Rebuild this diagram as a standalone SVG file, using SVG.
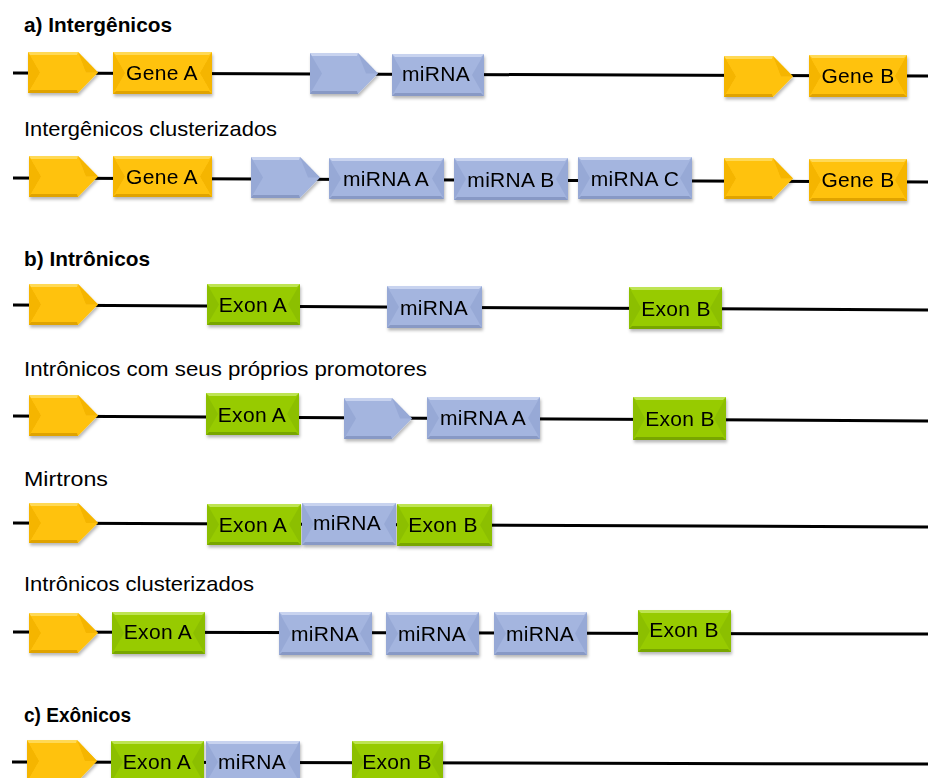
<svg xmlns="http://www.w3.org/2000/svg" width="928" height="778" viewBox="0 0 928 778">
<defs>
<filter id="sh" x="-10%" y="-15%" width="125%" height="150%">
<feDropShadow dx="1" dy="2.5" stdDeviation="1.4" flood-color="#000" flood-opacity="0.28"/>
</filter>
</defs>
<style>
text{font-family:"Liberation Sans",Arial,sans-serif;fill:#000}
.t{font-size:21px}
.h{font-size:21px;font-weight:bold}
.lbl{font-size:21px;text-anchor:middle;letter-spacing:0.3px}
.ln{fill:none;stroke:#000;stroke-width:3}
.y .f{fill:#FFC20E}.y .d{fill:#F5B500}.y .l{fill:#FFD955}.y .b{fill:#E0A300}
.u .f{fill:#A4B5DF}.u .d{fill:#97A9D6}.u .l{fill:#C8D3EF}.u .b{fill:#8899C5}
.g .f{fill:#97CB00}.g .d{fill:#8CBF00}.g .l{fill:#BEE452}.g .b{fill:#78A600}
.nd{filter:url(#sh)}
</style>
<rect width="928" height="778" fill="#fff"/>

<g id="titles">
<text class="h" x="24" y="32" textLength="148" lengthAdjust="spacingAndGlyphs">a) Intergênicos</text>
<text class="t" x="24" y="136" textLength="253" lengthAdjust="spacingAndGlyphs">Intergênicos clusterizados</text>
<text class="h" x="24" y="266" textLength="126" lengthAdjust="spacingAndGlyphs">b) Intrônicos</text>
<text class="t" x="24" y="376" textLength="403" lengthAdjust="spacingAndGlyphs">Intrônicos com seus próprios promotores</text>
<text class="t" x="24" y="486" textLength="84" lengthAdjust="spacingAndGlyphs">Mirtrons</text>
<text class="t" x="24" y="591" textLength="230" lengthAdjust="spacingAndGlyphs">Intrônicos clusterizados</text>
<text class="h" x="24" y="722" textLength="107" lengthAdjust="spacingAndGlyphs">c) Exônicos</text>
</g>

<g id="connectors">
<polyline class="ln" points="13,73 928,76"/>
<polyline class="ln" points="13,178 928,182"/>
<polyline class="ln" points="13,305 928,310"/>
<polyline class="ln" points="13,416 928,421"/>
<polyline class="ln" points="13,523 928,527"/>
<polyline class="ln" points="13,632 928,634"/>
<polyline class="ln" points="12,762 928,764"/>
</g>

<!-- Row 1 -->
<g id="r1_prom1" class="nd y">
<polygon class="f" points="28,52 78,52 98,72.5 78,93 28,93"/>
<polygon class="d" points="28,52 40,72.5 28,93"/>
<polygon class="d" points="78,52 98,72.5 86,72.5"/>
<polygon class="l" points="28,52 78,52 77,55 30,55"/>
<polygon class="b" points="28,93 78,93 77,90 30,90"/>
</g>
<g id="r1_geneA" class="nd y">
<rect class="f" x="113" y="52" width="99" height="42"/>
<polygon class="d" points="113,52 125,73 113,94"/>
<polygon class="d" points="212,52 200,73 212,94"/>
<polygon class="l" points="113,52 212,52 209,55 116,55"/>
<polygon class="b" points="113,94 212,94 209,91 116,91"/>
<text class="lbl" x="162" y="80">Gene A</text>
</g>
<g id="r1_prom2" class="nd u">
<polygon class="f" points="310,53 358,53 378,73.5 358,94 310,94"/>
<polygon class="d" points="310,53 322,73.5 310,94"/>
<polygon class="d" points="358,53 378,73.5 366,73.5"/>
<polygon class="l" points="310,53 358,53 357,56 312,56"/>
<polygon class="b" points="310,94 358,94 357,91 312,91"/>
</g>
<g id="r1_mirna" class="nd u">
<rect class="f" x="392" y="54" width="92" height="42"/>
<polygon class="d" points="392,54 404,75 392,96"/>
<polygon class="d" points="484,54 472,75 484,96"/>
<polygon class="l" points="392,54 484,54 481,57 395,57"/>
<polygon class="b" points="392,96 484,96 481,93 395,93"/>
<text class="lbl" x="436" y="81">miRNA</text>
</g>
<g id="r1_prom3" class="nd y">
<polygon class="f" points="724,56 773,56 793,76.5 773,97 724,97"/>
<polygon class="d" points="724,56 736,76.5 724,97"/>
<polygon class="d" points="773,56 793,76.5 781,76.5"/>
<polygon class="l" points="724,56 773,56 772,59 726,59"/>
<polygon class="b" points="724,97 773,97 772,94 726,94"/>
</g>
<g id="r1_geneB" class="nd y">
<rect class="f" x="809" y="55" width="98" height="42"/>
<polygon class="d" points="809,55 821,76 809,97"/>
<polygon class="d" points="907,55 895,76 907,97"/>
<polygon class="l" points="809,55 907,55 904,58 812,58"/>
<polygon class="b" points="809,97 907,97 904,94 812,94"/>
<text class="lbl" x="858" y="83">Gene B</text>
</g>

<!-- Row 2 -->
<g id="r2_prom1" class="nd y">
<polygon class="f" points="29,156 78,156 98,176.5 78,197 29,197"/>
<polygon class="d" points="29,156 41,176.5 29,197"/>
<polygon class="d" points="78,156 98,176.5 86,176.5"/>
<polygon class="l" points="29,156 78,156 77,159 31,159"/>
<polygon class="b" points="29,197 78,197 77,194 31,194"/>
</g>
<g id="r2_geneA" class="nd y">
<rect class="f" x="113" y="156" width="99" height="41"/>
<polygon class="d" points="113,156 125,176.5 113,197"/>
<polygon class="d" points="212,156 200,176.5 212,197"/>
<polygon class="l" points="113,156 212,156 209,159 116,159"/>
<polygon class="b" points="113,197 212,197 209,194 116,194"/>
<text class="lbl" x="162" y="184">Gene A</text>
</g>
<g id="r2_prom2" class="nd u">
<polygon class="f" points="251,157 300,157 320,177.5 300,198 251,198"/>
<polygon class="d" points="251,157 263,177.5 251,198"/>
<polygon class="d" points="300,157 320,177.5 308,177.5"/>
<polygon class="l" points="251,157 300,157 299,160 253,160"/>
<polygon class="b" points="251,198 300,198 299,195 253,195"/>
</g>
<g id="r2_mirnaA" class="nd u">
<rect class="f" x="329" y="158" width="115" height="41"/>
<polygon class="d" points="329,158 341,178.5 329,199"/>
<polygon class="d" points="444,158 432,178.5 444,199"/>
<polygon class="l" points="329,158 444,158 441,161 332,161"/>
<polygon class="b" points="329,199 444,199 441,196 332,196"/>
<text class="lbl" x="386" y="186">miRNA A</text>
</g>
<g id="r2_mirnaB" class="nd u">
<rect class="f" x="454" y="158" width="114" height="42"/>
<polygon class="d" points="454,158 466,179 454,200"/>
<polygon class="d" points="568,158 556,179 568,200"/>
<polygon class="l" points="454,158 568,158 565,161 457,161"/>
<polygon class="b" points="454,200 568,200 565,197 457,197"/>
<text class="lbl" x="511" y="187">miRNA B</text>
</g>
<g id="r2_mirnaC" class="nd u">
<rect class="f" x="578" y="157" width="114" height="42"/>
<polygon class="d" points="578,157 590,178 578,199"/>
<polygon class="d" points="692,157 680,178 692,199"/>
<polygon class="l" points="578,157 692,157 689,160 581,160"/>
<polygon class="b" points="578,199 692,199 689,196 581,196"/>
<text class="lbl" x="635" y="186">miRNA C</text>
</g>
<g id="r2_prom3" class="nd y">
<polygon class="f" points="724,158 773,158 793,178.5 773,199 724,199"/>
<polygon class="d" points="724,158 736,178.5 724,199"/>
<polygon class="d" points="773,158 793,178.5 781,178.5"/>
<polygon class="l" points="724,158 773,158 772,161 726,161"/>
<polygon class="b" points="724,199 773,199 772,196 726,196"/>
</g>
<g id="r2_geneB" class="nd y">
<rect class="f" x="809" y="159" width="98" height="42"/>
<polygon class="d" points="809,159 821,180 809,201"/>
<polygon class="d" points="907,159 895,180 907,201"/>
<polygon class="l" points="809,159 907,159 904,162 812,162"/>
<polygon class="b" points="809,201 907,201 904,198 812,198"/>
<text class="lbl" x="858" y="187">Gene B</text>
</g>

<!-- Row 3 -->
<g id="r3_prom" class="nd y">
<polygon class="f" points="29,284 78,284 98,304.5 78,325 29,325"/>
<polygon class="d" points="29,284 41,304.5 29,325"/>
<polygon class="d" points="78,284 98,304.5 86,304.5"/>
<polygon class="l" points="29,284 78,284 77,287 31,287"/>
<polygon class="b" points="29,325 78,325 77,322 31,322"/>
</g>
<g id="r3_exonA" class="nd g">
<rect class="f" x="207" y="284" width="93" height="41"/>
<polygon class="d" points="207,284 219,304.5 207,325"/>
<polygon class="d" points="300,284 288,304.5 300,325"/>
<polygon class="l" points="207,284 300,284 297,287 210,287"/>
<polygon class="b" points="207,325 300,325 297,322 210,322"/>
<text class="lbl" x="253" y="312">Exon A</text>
</g>
<g id="r3_mirna" class="nd u">
<rect class="f" x="387" y="286" width="95" height="42"/>
<polygon class="d" points="387,286 399,307 387,328"/>
<polygon class="d" points="482,286 470,307 482,328"/>
<polygon class="l" points="387,286 482,286 479,289 390,289"/>
<polygon class="b" points="387,328 482,328 479,325 390,325"/>
<text class="lbl" x="434" y="315">miRNA</text>
</g>
<g id="r3_exonB" class="nd g">
<rect class="f" x="629" y="287" width="93" height="42"/>
<polygon class="d" points="629,287 641,308 629,329"/>
<polygon class="d" points="722,287 710,308 722,329"/>
<polygon class="l" points="629,287 722,287 719,290 632,290"/>
<polygon class="b" points="629,329 722,329 719,326 632,326"/>
<text class="lbl" x="676" y="316">Exon B</text>
</g>

<!-- Row 4 -->
<g id="r4_prom1" class="nd y">
<polygon class="f" points="29,395 78,395 98,415.5 78,436 29,436"/>
<polygon class="d" points="29,395 41,415.5 29,436"/>
<polygon class="d" points="78,395 98,415.5 86,415.5"/>
<polygon class="l" points="29,395 78,395 77,398 31,398"/>
<polygon class="b" points="29,436 78,436 77,433 31,433"/>
</g>
<g id="r4_exonA" class="nd g">
<rect class="f" x="206" y="393" width="93" height="42"/>
<polygon class="d" points="206,393 218,414 206,435"/>
<polygon class="d" points="299,393 287,414 299,435"/>
<polygon class="l" points="206,393 299,393 296,396 209,396"/>
<polygon class="b" points="206,435 299,435 296,432 209,432"/>
<text class="lbl" x="252" y="422">Exon A</text>
</g>
<g id="r4_prom2" class="nd u">
<polygon class="f" points="344,398 392,398 412,418.5 392,439 344,439"/>
<polygon class="d" points="344,398 356,418.5 344,439"/>
<polygon class="d" points="392,398 412,418.5 400,418.5"/>
<polygon class="l" points="344,398 392,398 391,401 346,401"/>
<polygon class="b" points="344,439 392,439 391,436 346,436"/>
</g>
<g id="r4_mirnaA" class="nd u">
<rect class="f" x="427" y="397" width="113" height="42"/>
<polygon class="d" points="427,397 439,418 427,439"/>
<polygon class="d" points="540,397 528,418 540,439"/>
<polygon class="l" points="427,397 540,397 537,400 430,400"/>
<polygon class="b" points="427,439 540,439 537,436 430,436"/>
<text class="lbl" x="483" y="425">miRNA A</text>
</g>
<g id="r4_exonB" class="nd g">
<rect class="f" x="633" y="397" width="93" height="43"/>
<polygon class="d" points="633,397 645,418.5 633,440"/>
<polygon class="d" points="726,397 714,418.5 726,440"/>
<polygon class="l" points="633,397 726,397 723,400 636,400"/>
<polygon class="b" points="633,440 726,440 723,437 636,437"/>
<text class="lbl" x="680" y="426">Exon B</text>
</g>

<!-- Row 5 -->
<g id="r5_prom" class="nd y">
<polygon class="f" points="29,503 78,503 98,523 78,543 29,543"/>
<polygon class="d" points="29,503 41,523 29,543"/>
<polygon class="d" points="78,503 98,523 86,523"/>
<polygon class="l" points="29,503 78,503 77,506 31,506"/>
<polygon class="b" points="29,543 78,543 77,540 31,540"/>
</g>
<g id="r5_exonA" class="nd g">
<rect class="f" x="207" y="504" width="94" height="41"/>
<polygon class="d" points="207,504 219,524.5 207,545"/>
<polygon class="d" points="301,504 289,524.5 301,545"/>
<polygon class="l" points="207,504 301,504 298,507 210,507"/>
<polygon class="b" points="207,545 301,545 298,542 210,542"/>
<text class="lbl" x="253" y="532">Exon A</text>
</g>
<g id="r5_mirna" class="nd u">
<rect class="f" x="302" y="503" width="94" height="42"/>
<polygon class="d" points="302,503 314,524 302,545"/>
<polygon class="d" points="396,503 384,524 396,545"/>
<polygon class="l" points="302,503 396,503 393,506 305,506"/>
<polygon class="b" points="302,545 396,545 393,542 305,542"/>
<text class="lbl" x="347" y="530">miRNA</text>
</g>
<g id="r5_exonB" class="nd g">
<rect class="f" x="397" y="504" width="95" height="42"/>
<polygon class="d" points="397,504 409,525 397,546"/>
<polygon class="d" points="492,504 480,525 492,546"/>
<polygon class="l" points="397,504 492,504 489,507 400,507"/>
<polygon class="b" points="397,546 492,546 489,543 400,543"/>
<text class="lbl" x="443" y="532">Exon B</text>
</g>

<!-- Row 6 -->
<g id="r6_prom" class="nd y">
<polygon class="f" points="29,613 78,613 98,633 78,653 29,653"/>
<polygon class="d" points="29,613 41,633 29,653"/>
<polygon class="d" points="78,613 98,633 86,633"/>
<polygon class="l" points="29,613 78,613 77,616 31,616"/>
<polygon class="b" points="29,653 78,653 77,650 31,650"/>
</g>
<g id="r6_exonA" class="nd g">
<rect class="f" x="112" y="612" width="93" height="42"/>
<polygon class="d" points="112,612 124,633 112,654"/>
<polygon class="d" points="205,612 193,633 205,654"/>
<polygon class="l" points="112,612 205,612 202,615 115,615"/>
<polygon class="b" points="112,654 205,654 202,651 115,651"/>
<text class="lbl" x="158" y="639">Exon A</text>
</g>
<g id="r6_mirna1" class="nd u">
<rect class="f" x="279" y="612" width="93" height="43"/>
<polygon class="d" points="279,612 291,633.5 279,655"/>
<polygon class="d" points="372,612 360,633.5 372,655"/>
<polygon class="l" points="279,612 372,612 369,615 282,615"/>
<polygon class="b" points="279,655 372,655 369,652 282,652"/>
<text class="lbl" x="325" y="641">miRNA</text>
</g>
<g id="r6_mirna2" class="nd u">
<rect class="f" x="386" y="612" width="93" height="43"/>
<polygon class="d" points="386,612 398,633.5 386,655"/>
<polygon class="d" points="479,612 467,633.5 479,655"/>
<polygon class="l" points="386,612 479,612 476,615 389,615"/>
<polygon class="b" points="386,655 479,655 476,652 389,652"/>
<text class="lbl" x="432" y="641">miRNA</text>
</g>
<g id="r6_mirna3" class="nd u">
<rect class="f" x="494" y="612" width="93" height="43"/>
<polygon class="d" points="494,612 506,633.5 494,655"/>
<polygon class="d" points="587,612 575,633.5 587,655"/>
<polygon class="l" points="494,612 587,612 584,615 497,615"/>
<polygon class="b" points="494,655 587,655 584,652 497,652"/>
<text class="lbl" x="540" y="641">miRNA</text>
</g>
<g id="r6_exonB" class="nd g">
<rect class="f" x="638" y="610" width="93" height="42"/>
<polygon class="d" points="638,610 650,631 638,652"/>
<polygon class="d" points="731,610 719,631 731,652"/>
<polygon class="l" points="638,610 731,610 728,613 641,613"/>
<polygon class="b" points="638,652 731,652 728,649 641,649"/>
<text class="lbl" x="684" y="637">Exon B</text>
</g>

<!-- Row 7 -->
<g id="r7_prom" class="nd y">
<polygon class="f" points="27,740 77,740 97,761 77,782 27,782"/>
<polygon class="d" points="27,740 39,761 27,782"/>
<polygon class="d" points="77,740 97,761 85,761"/>
<polygon class="l" points="27,740 77,740 76,743 29,743"/>
</g>
<g id="r7_exonA" class="nd g">
<rect class="f" x="111" y="741" width="93" height="42"/>
<polygon class="d" points="111,741 123,762 111,783"/>
<polygon class="d" points="204,741 192,762 204,783"/>
<polygon class="l" points="111,741 204,741 201,744 114,744"/>
<text class="lbl" x="157" y="769">Exon A</text>
</g>
<g id="r7_mirna" class="nd u">
<rect class="f" x="206" y="741" width="94" height="42"/>
<polygon class="d" points="206,741 218,762 206,783"/>
<polygon class="d" points="300,741 288,762 300,783"/>
<polygon class="l" points="206,741 300,741 297,744 209,744"/>
<text class="lbl" x="252" y="769">miRNA</text>
</g>
<g id="r7_exonB" class="nd g">
<rect class="f" x="352" y="741" width="91" height="42"/>
<polygon class="d" points="352,741 364,762 352,783"/>
<polygon class="d" points="443,741 431,762 443,783"/>
<polygon class="l" points="352,741 443,741 440,744 355,744"/>
<text class="lbl" x="397" y="769">Exon B</text>
</g>
</svg>
